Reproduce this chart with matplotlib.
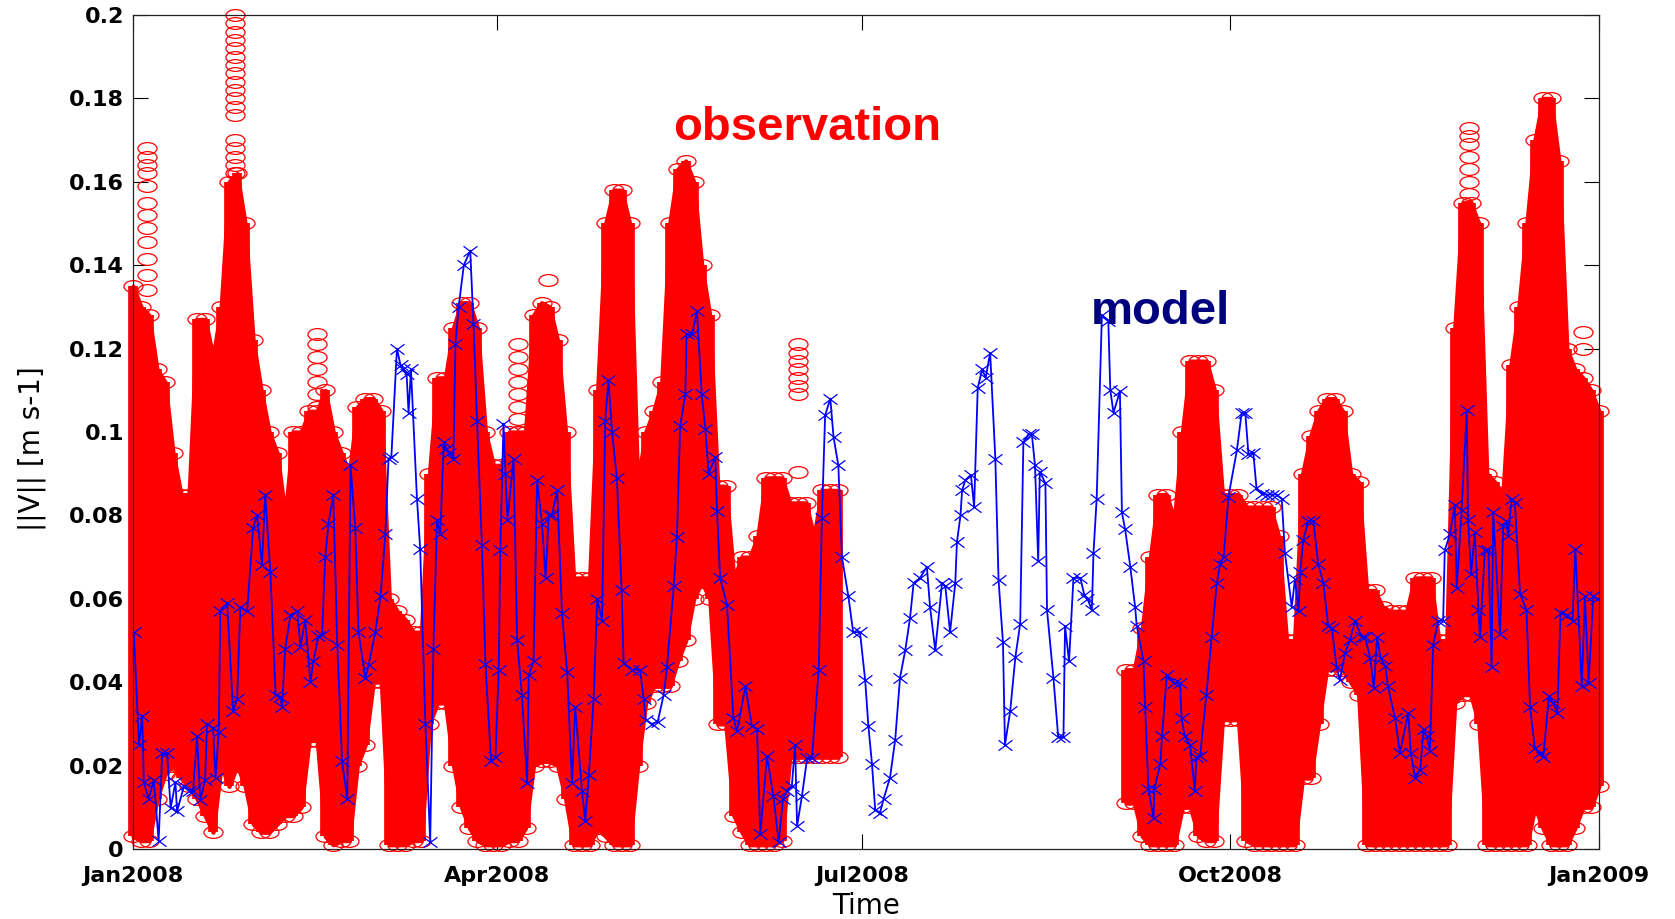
import matplotlib
matplotlib.use("Agg")
import matplotlib.pyplot as plt
from matplotlib.path import Path

# observed current speed: low / high envelope of the hourly record, per 2-day bin
obs_day = [0, 2, 4, 6, 8, 10, 12, 14, 16, 18, 20, 22, 24, 26, 28, 30, 32, 34, 36, 38,
           40, 42, 44, 46, 48, 50, 52, 54, 56, 58, 60, 62, 64, 66, 68, 70, 72, 74, 76, 78,
           80, 82, 84, 86, 88, 90, 92, 94, 96, 98, 100, 102, 104, 106, 108, 110, 112, 114, 116, 118,
           120, 122, 124, 126, 128, 130, 132, 134, 136, 138, 140, 142, 144, 146, 148, 150, 152, 154, 156, 158,
           160, 162, 164, 166, 168, 170, 172, 174, 176,
           248, 250, 252, 254, 256, 258, 260, 262, 264, 266, 268, 270, 272, 274, 276, 278,
           280, 282, 284, 286, 288, 290, 292, 294, 296, 298, 300, 302, 304, 306, 308, 310, 312, 314, 316, 318,
           320, 322, 324, 326, 328, 330, 332, 334, 336, 338, 340, 342, 344, 346, 348, 350, 352, 354, 356, 358,
           360, 362, 364, 366]
obs_hi = [.135, .130, .128, .115, .112, .095, .085, .085, .127, .127, .118, .130, .160, .162, .150, .122, .110, .100, .095, .080,
          .100, .100, .105, .105, .110, .100, .095, .090, .106, .108, .108, .105, .060, .057, .055, .052, .052, .090, .113, .113,
          .125, .131, .131, .125, .100, .092, .092, .100, .100, .100, .128, .131, .130, .122, .100, .065, .065, .065, .110, .150,
          .158, .158, .150, .088, .100, .105, .112, .150, .163, .165, .160, .140, .128, .087, .087, .065, .070, .070, .075, .089,
          .089, .089, .083, .083, .083, .075, .086, .086, .086,
          .043, .043, .053, .070, .085, .085, .079, .100, .117, .117, .117, .110, .085, .085, .085, .082,
          .082, .082, .082, .075, .050, .050, .090, .099, .105, .108, .108, .105, .090, .088, .062, .062, .058, .057, .057, .057,
          .065, .065, .065, .050, .050, .125, .155, .155, .150, .090, .088, .085, .116, .130, .150, .170, .180, .180, .165, .120,
          .115, .113, .110, .105]
obs_lo = [.003, .002, .002, .012, .018, .020, .017, .015, .012, .008, .004, .020, .015, .020, .015, .006, .004, .004, .006, .008,
          .008, .010, .026, .026, .003, .001, .002, .002, .020, .025, .040, .040, .001, .001, .001, .002, .002, .030, .035, .035,
          .020, .010, .005, .002, .001, .001, .001, .002, .002, .005, .020, .021, .021, .020, .012, .001, .001, .001, .005, .003,
          .001, .001, .001, .020, .035, .039, .039, .039, .045, .050, .060, .064, .060, .030, .030, .008, .004, .001, .001, .001,
          .001, .002, .022, .022, .022, .022, .022, .022, .022,
          .011, .011, .003, .001, .001, .001, .001, .010, .010, .003, .002, .002, .031, .031, .031, .002,
          .001, .001, .001, .001, .001, .001, .017, .017, .030, .043, .043, .043, .040, .037, .001, .001, .001, .001, .001, .001,
          .001, .001, .001, .001, .001, .035, .037, .037, .030, .001, .001, .001, .001, .001, .001, .010, .005, .001, .001, .001,
          .005, .010, .010, .015]

# isolated / loosely stacked observation circles above the dense bands
sparse_day = [3.5] * 12 + [25.5] * 18 + [46] * 7 + [96] * 8 + [103.7] + [166] * 8 + [333.5] * 7 + [362] * 2
sparse_val = [.168, .166, .164, .162, .159, .155, .152, .149, .1456, .1416, .1377, .134,
              .200, .198, .196, .194, .192, .190, .188, .186, .184, .182, .180, .178, .176, .170, .168, .166, .164, .162,
              .1235, .121, .118, .115, .112, .109, .106,
              .121, .118, .115, .112, .109, .106, .103, .100,
              .1364,
              .121, .119, .117, .115, .113, .111, .109, .0904,
              .173, .171, .169, .166, .163, .160, .157,
              .124, .120]

# model, daily-ish output
model_day = [0.2, 1.5, 2.3, 2.7, 3.9, 5.2, 6.4, 7.3, 8.5, 9.4, 10.6, 11, 12.7, 13.9, 15, 16, 16.8, 18, 18.5, 20,
             20.6, 21.4, 21.8, 23.5, 25, 26, 26.8, 28.5, 30, 31, 32.2, 33, 34.3, 35.6, 36.8, 37.2, 38, 39.3, 41, 41.8,
             43, 44.3, 45, 46.3, 47.2, 48, 48.8, 50, 51, 52.2, 53.5, 54.3, 55.5, 56.3, 58, 58.8, 60.5, 61.8, 63, 63.8,
             64.5, 65.9, 66.8, 67.5, 68.3, 68.8, 69.4, 70.9, 71.7, 73, 74.2, 75, 75.9, 76.7, 77.6, 78.2, 79, 80, 80.5, 81.3,
             82.6, 84.2, 85, 85.9, 87.1, 88, 89.4, 90.5, 91.3, 91.7, 92.5, 93, 93.5, 95, 95.9, 97.1, 98.4, 98.8, 100, 100.9,
             102.1, 103, 103.8, 104.6, 105.9, 107.1, 108.4, 109.6, 110.4, 112.1, 112.9, 113.8, 115, 115.9, 117.1, 117.9, 118.7, 119.6, 120.8, 122,
             122.5, 124.6, 126.6, 127.5, 128, 129.5, 131, 132.5, 133.3, 135, 135.8, 136.6, 137.9, 138.2, 139.6, 140.8, 142, 142.9, 143.7, 145.4,
             145.8, 146.6, 148.3, 149.9, 150.8, 152.9, 154.5, 155.8, 156.6, 158.3, 159.9, 161.2, 162.3, 163.2, 164.5, 165.3, 165.8, 167, 168.3, 169.5,
             171.2, 172, 172.8, 174.1, 174.9, 176.1, 177, 178.6, 179.8, 181.5, 182.8, 183.6, 184.5, 185.3, 186.5, 187.4, 189, 190.3, 191.5, 192.8,
             194, 194.9, 196.5, 198.2, 199, 200.3, 202, 202.8, 204, 205.3, 205.7, 206.6, 207, 207.8, 209.2, 210, 210.9, 212, 212.9, 214,
             215.3, 216.1, 217.2, 217.7, 219, 220.3, 221.5, 222.3, 223.6, 224.4, 225.2, 226, 226.4, 227.8, 228.2, 229.8, 231, 232.3, 232.7, 233.7,
             234.8, 236.5, 237.5, 238.3, 239.4, 239.8, 240.6, 241.9, 243.5, 244, 244.8, 246.4, 246.9, 247.7, 249, 250.2, 250.6, 252.3, 252.7, 253.5,
             254.8, 255, 256.5, 256.9, 258.1, 259.8, 261.4, 261.8, 262.6, 263.9, 265.1, 265.5, 266.4, 268, 269.3, 270.6, 271.4, 272.3, 273.5, 275.6,
             276.8, 277.7, 278.5, 279.7, 280.5, 281.8, 283, 284.3, 285.5, 286.8, 287.6, 289.3, 290.1, 291, 291.4, 292.2, 293.4, 294.7, 295.9, 297.2,
             298.4, 299.3, 300.5, 301.3, 302.6, 303.8, 305.1, 306.8, 307.6, 308.9, 309.8, 310.6, 311.5, 312.7, 313.3, 315.1, 316.3, 318.4, 319, 320.1,
             321.4, 322.2, 323, 323.8, 324.6, 325.9, 327.1, 327.5, 328.8, 330, 330.5, 331.7, 333, 333.3, 334.1, 335, 335.9, 336.3, 337.5, 338.4,
             339.2, 339.6, 341.3, 342.1, 342.9, 343.3, 344.2, 345, 346.3, 347.9, 348.8, 350, 351.3, 352.1, 353.5, 354.6, 355.6, 356.4, 358.1, 359.4,
             360.1, 361.7, 362.5, 363.4, 364.6, 365.5]
model_val = [.052, .025, .032, .016, .012, .0165, .002, .023, .023, .0098, .016, .009, .015, .014, .014, .027, .0118, .0165, .030, .029,
             .017, .028, .057, .059, .033, .036, .058, .057, .077, .080, .068, .085, .0665, .037, .0365, .034, .048, .056, .057, .0485,
             .055, .040, .045, .051, .0513, .070, .078, .085, .049, .021, .012, .092, .077, .052, .041, .044, .052, .0606, .0755, .0936,
             .094, .120, .116, .115, .114, .1046, .115, .084, .072, .030, .0017, .048, .079, .0755, .0976, .096, .095, .0936, .121, .130,
             .140, .1435, .126, .1027, .073, .0444, .021, .022, .043, .0716, .102, .090, .079, .0936, .050, .037, .0158, .0417, .045, .0885,
             .078, .065, .080, .080, .086, .0567, .0424, .0158, .034, .0139, .0067, .0177, .036, .060, .0547, .1027, .1125, .100, .089, .062,
             .0445, .043, .043, .036, .031, .030, .0305, .037, .0436, .063, .0748, .1014, .109, .1235, .1235, .129, .109, .1007, .090, .094,
             .081, .065, .0586, .0314, .0283, .039, .0295, .0288, .0036, .0223, .0126, .0016, .012, .014, .0152, .025, .0055, .0126, .0217, .0217,
             .043, .0794, .104, .108, .0988, .092, .070, .0606, .052, .052, .0405, .0295, .0204, .0094, .0087, .012, .0171, .0262, .0411, .0476,
             .0554, .0638, .065, .0677, .058, .0476, .0638, .063, .052, .0638, .0735, .080, .086, .0885, .0897, .082, .1105, .115, .113, .119,
             .0936, .0645, .0496, .025, .033, .046, .054, .0975, .0995, .0995, .092, .069, .0905, .0877, .0573, .041, .0268, .0268, .0535, .045,
             .065, .065, .061, .060, .0573, .071, .084, .128, .1267, .110, .1046, .1098, .0807, .0767, .0676, .058, .0535, .045, .034, .0145,
             .0074, .0145, .0204, .027, .0417, .0398, .0398, .0314, .027, .025, .0139, .022, .0223, .037, .0508, .0638, .0683, .070, .0845, .0956,
             .1046, .1046, .0946, .095, .0866, .0852, .085, .085, .085, .084, .071, .058, .0647, .057, .0664, .0742, .0787, .0787, .0683, .0638,
             .0535, .053, .0437, .0405, .047, .050, .0547, .0508, .0508, .0457, .0386, .0508, .0457, .0438, .039, .0314, .023, .0327, .023, .0171,
             .019, .0288, .027, .0236, .049, .0547, .0547, .0716, .0755, .0826, .0626, .0813, .1052, .079, .066, .076, .0573, .0508, .0716, .0716,
             .0437, .0807, .0515, .0774, .0787, .075, .084, .083, .0612, .0573, .034, .0242, .023, .022, .0366, .035, .0327, .0567, .056, .0547,
             .072, .039, .0606, .0398, .0606, .060]

xtick_days = [0, 91, 182, 274, 366]
xtick_labels = ["Jan2008", "Apr2008", "Jul2008", "Oct2008", "Jan2009"]
ytick_vals = [0, 0.02, 0.04, 0.06, 0.08, 0.1, 0.12, 0.14, 0.16, 0.18, 0.2]
ytick_labels = ["0", "0.02", "0.04", "0.06", "0.08", "0.1", "0.12", "0.14", "0.16", "0.18", "0.2"]

# squashed circle and wide x, the original figure was stretched sideways
ellipse = Path.unit_circle().transformed(matplotlib.transforms.Affine2D().scale(1.0, 0.62))
wide_x = Path([(-1, -0.75), (1, 0.75), (-1, 0.75), (1, -0.75)],
              [Path.MOVETO, Path.LINETO, Path.MOVETO, Path.LINETO])

fig = plt.figure(figsize=(16.75, 9.19), dpi=100)
ax = fig.add_axes([0.0794, 0.0762, 0.8752, 0.9075])

red = "#ff0000"
# the record has a gap between early July and early September
split = obs_day.index(248)
for a, b in [(0, split), (split, len(obs_day))]:
    ax.fill_between(obs_day[a:b], obs_lo[a:b], obs_hi[a:b], color=red, lw=3, ec=red,
                    zorder=2, clip_on=False)
ax.vlines(obs_day, obs_lo, obs_hi, colors=red, linewidth=7.0, zorder=2, clip_on=False)
ring = dict(ls="none", marker=ellipse, ms=13.7, mfc="none", mec=red, mew=0.9, zorder=2.1, clip_on=False)
ax.plot(obs_day, obs_hi, **ring)
ax.plot(obs_day, obs_lo, **ring)
ax.plot(sparse_day, sparse_val, **ring)

ax.plot(model_day, model_val, color="#0000ff", lw=1.3, marker=wide_x, ms=10, mew=0.9, zorder=3)

ax.text(134.8, 0.170, "observation", color=red, fontsize=34, fontweight="bold",
        family="Liberation Sans", va="baseline", ha="left", zorder=4)
ax.text(239.0, 0.126, "model", color="#00007f", fontsize=34, fontweight="bold",
        family="Liberation Sans", va="baseline", ha="left", zorder=4)

ax.set_xlim(0, 366)
ax.set_ylim(0, 0.2)
ax.set_xticks(xtick_days)
ax.set_xticklabels(xtick_labels)
ax.set_yticks(ytick_vals)
ax.set_yticklabels(ytick_labels)
ax.tick_params(direction="in", top=True, right=True, length=10.5, width=0.8, labelsize=16)
ax.tick_params(axis="x", pad=12.5)
ax.tick_params(axis="y", pad=6.5)
for lab in ax.get_xticklabels() + ax.get_yticklabels():
    lab.set_fontweight("bold")
for sp in ax.spines.values():
    sp.set_linewidth(0.9)
    sp.set_color("#222222")

xl = ax.set_xlabel("Time", fontsize=20)
ax.xaxis.set_label_coords(0.5, -0.068)
xl.set_va("center")
yl = ax.set_ylabel("||V|| [m s-1]", fontsize=20)
ax.yaxis.set_label_coords(-0.069, 0.48)
yl.set_va("center")

fig.savefig("out.png", dpi=100)
